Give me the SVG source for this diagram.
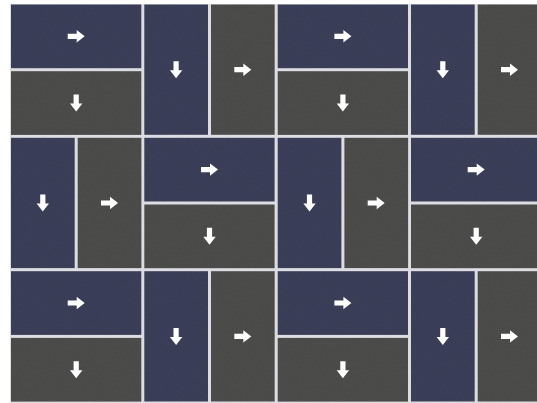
<svg xmlns="http://www.w3.org/2000/svg" xmlns:xlink="http://www.w3.org/1999/xlink" width="537" height="403" viewBox="0 0 537 403">
<style>
.b{fill:#383c55}
.g{fill:#494a48}
.a{fill:#ffffff}
</style>
<defs>
<path id="ar" class="a" d="M-8.5,-2.6 H0.5 V-6.2 L8.5,0 L0.5,6.2 V2.6 H-8.5 Z"/>
<filter id="n" x="0" y="0" width="100%" height="100%">
<feTurbulence type="fractalNoise" baseFrequency="0.8 0.4" numOctaves="2" seed="5"/>
<feColorMatrix type="saturate" values="0"/>
</filter>
<g id="A">
<rect class="b" x="1.5" y="1.5" width="130.3" height="63.7"/>
<rect class="g" x="1.5" y="68.2" width="130.3" height="63.7"/>
<use xlink:href="#ar" href="#ar" x="66.7" y="33.3"/>
<use xlink:href="#ar" href="#ar" transform="translate(66.7,100) rotate(90)"/>
</g>
<g id="B">
<rect class="b" x="1.5" y="1.5" width="63.7" height="130.3"/>
<rect class="g" x="68.2" y="1.5" width="63.7" height="130.3"/>
<use xlink:href="#ar" href="#ar" transform="translate(33.3,66.7) rotate(90)"/>
<use xlink:href="#ar" href="#ar" x="100" y="66.7"/>
</g>
</defs>
<rect width="537" height="403" fill="#ffffff"/>
<rect x="10" y="4" width="527" height="399" fill="#dcdce2"/>
<g id="row0">
<use id="t00" xlink:href="#A" href="#A" x="9.5" y="3"/>
<use id="t01" xlink:href="#B" href="#B" x="142.8" y="3"/>
<use id="t02" xlink:href="#A" href="#A" x="276.2" y="3"/>
<use id="t03" xlink:href="#B" href="#B" x="409.5" y="3"/>
</g>
<g id="row1">
<use id="t10" xlink:href="#B" href="#B" x="9.5" y="136.3"/>
<use id="t11" xlink:href="#A" href="#A" x="142.8" y="136.3"/>
<use id="t12" xlink:href="#B" href="#B" x="276.2" y="136.3"/>
<use id="t13" xlink:href="#A" href="#A" x="409.5" y="136.3"/>
</g>
<g id="row2">
<use id="t20" xlink:href="#A" href="#A" x="9.5" y="269.7"/>
<use id="t21" xlink:href="#B" href="#B" x="142.8" y="269.7"/>
<use id="t22" xlink:href="#A" href="#A" x="276.2" y="269.7"/>
<use id="t23" xlink:href="#B" href="#B" x="409.5" y="269.7"/>
</g>
<rect id="texture" x="10" y="4" width="527" height="399" filter="url(#n)" opacity="0.07" style="mix-blend-mode:overlay" pointer-events="none"/>
<g id="connectors"/>
</svg>
